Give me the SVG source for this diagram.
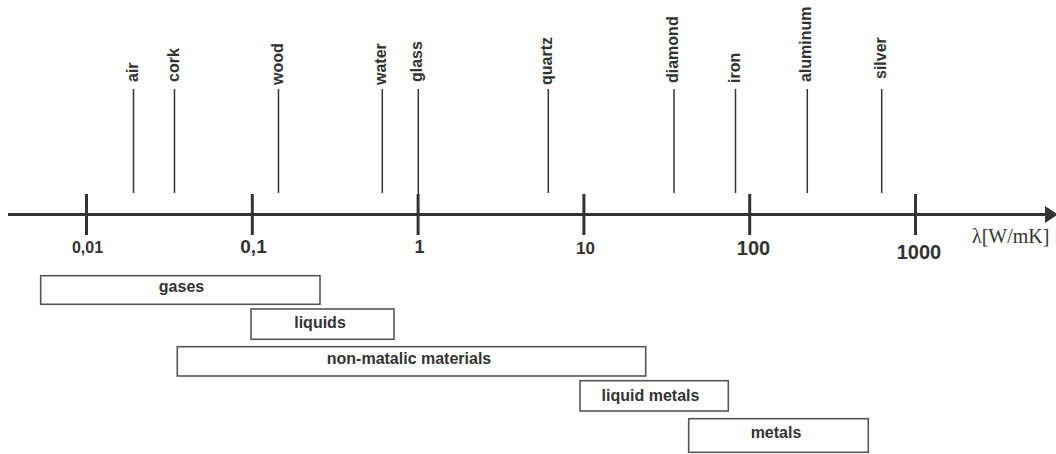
<svg xmlns="http://www.w3.org/2000/svg" width="1056" height="454" viewBox="0 0 1056 454">
  <style>
    .lbl { font-family: "Liberation Sans", Arial, sans-serif; font-weight: bold; font-size: 16px; fill: #333; }
    .tick-lbl { font-family: "Liberation Sans", Arial, sans-serif; font-weight: bold; fill: #333; text-anchor: middle; }
    .unit { font-family: "Liberation Serif", "Times New Roman", serif; font-size: 20px; fill: #333; }
    .axis { stroke: #333; stroke-width: 3; fill: none; }
    .tick { stroke: #333; stroke-width: 3; }
    .mark { stroke: #333; stroke-width: 1.5; }
    .range rect { fill: #fff; stroke: #555; stroke-width: 1.6; }
    .range text { text-anchor: middle; }
  </style>
  <defs>
    <marker id="arrow" markerWidth="14" markerHeight="18" refX="12" refY="8.5" orient="auto" markerUnits="userSpaceOnUse">
      <path d="M0,0 L13,8.5 L0,17 Z" fill="#333"/>
    </marker>
  </defs>
  <rect width="1056" height="454" fill="#fff"/>

  <!-- logarithmic axis -->
  <g id="connectors">
    <line class="axis" x1="8" y1="214.5" x2="1057" y2="214.5" marker-end="url(#arrow)"/>
    <line class="tick" x1="86.5" y1="194" x2="86.5" y2="235"/>
    <line class="tick" x1="252.3" y1="194" x2="252.3" y2="235"/>
    <line class="tick" x1="418.1" y1="194" x2="418.1" y2="235"/>
    <line class="tick" x1="583.9" y1="194" x2="583.9" y2="235"/>
    <line class="tick" x1="749.7" y1="194" x2="749.7" y2="235"/>
    <line class="tick" x1="915.5" y1="194" x2="915.5" y2="235"/>

    <!-- material markers -->
    <line class="mark" x1="133.5" y1="89" x2="133.5" y2="193"/>
    <line class="mark" x1="174.5" y1="89" x2="174.5" y2="193"/>
    <line class="mark" x1="278.5" y1="89" x2="278.5" y2="193"/>
    <line class="mark" x1="382.3" y1="89" x2="382.3" y2="193"/>
    <line class="mark" x1="418.3" y1="89" x2="418.3" y2="196"/>
    <line class="mark" x1="548.3" y1="89" x2="548.3" y2="193"/>
    <line class="mark" x1="674" y1="89" x2="674" y2="193"/>
    <line class="mark" x1="735.5" y1="89" x2="735.5" y2="193"/>
    <line class="mark" x1="807.3" y1="89" x2="807.3" y2="193"/>
    <line class="mark" x1="881.7" y1="89" x2="881.7" y2="193"/>
  </g>

  <!-- axis scale labels -->
  <g id="scale">
    <text class="tick-lbl" x="87.5" y="253" font-size="16">0,01</text>
    <text class="tick-lbl" x="253.5" y="253" font-size="19">0,1</text>
    <text class="tick-lbl" x="419.5" y="252.5" font-size="18">1</text>
    <text class="tick-lbl" x="585.5" y="254" font-size="17">10</text>
    <text class="tick-lbl" x="753.5" y="254.5" font-size="20">100</text>
    <text class="tick-lbl" x="919" y="258.5" font-size="20">1000</text>
    <text class="unit" x="972" y="243">λ[W/mK]</text>
  </g>

  <!-- material names -->
  <g id="materials">
    <text class="lbl" transform="translate(137.5,82) rotate(-90)">air</text>
    <text class="lbl" transform="translate(178.5,82) rotate(-90)">cork</text>
    <text class="lbl" transform="translate(282.5,85) rotate(-90)">wood</text>
    <text class="lbl" transform="translate(386.3,85) rotate(-90)">water</text>
    <text class="lbl" transform="translate(422.3,82) rotate(-90)">glass</text>
    <text class="lbl" transform="translate(552.3,85) rotate(-90)">quartz</text>
    <text class="lbl" transform="translate(678,83) rotate(-90)">diamond</text>
    <text class="lbl" transform="translate(739.5,83) rotate(-90)">iron</text>
    <text class="lbl" transform="translate(811.3,82) rotate(-90)">aluminum</text>
    <text class="lbl" transform="translate(885.7,79) rotate(-90)">silver</text>
  </g>

  <!-- ranges by material class -->
  <g id="gases" class="range">
    <rect x="40.7" y="275.7" width="279.3" height="28.6"/>
    <text class="lbl" x="181.5" y="291.7">gases</text>
  </g>
  <g id="liquids" class="range">
    <rect x="251" y="309" width="143" height="30.3"/>
    <text class="lbl" x="320" y="327.7">liquids</text>
  </g>
  <g id="non-metallic" class="range">
    <rect x="177.3" y="346.7" width="468.4" height="29.3"/>
    <text class="lbl" x="409" y="364.3">non-matalic materials</text>
  </g>
  <g id="liquid-metals" class="range">
    <rect x="580" y="380.7" width="148.3" height="30.3"/>
    <text class="lbl" x="650.5" y="400.7">liquid metals</text>
  </g>
  <g id="metals" class="range">
    <rect x="688.7" y="418.7" width="179.6" height="33.6"/>
    <text class="lbl" x="776" y="438.3">metals</text>
  </g>
</svg>
